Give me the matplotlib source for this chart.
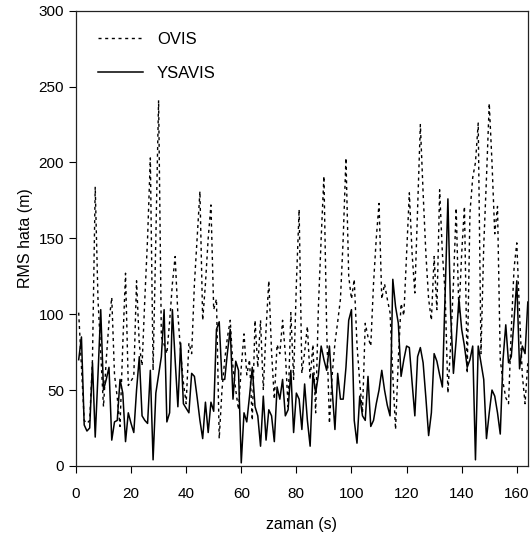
import numpy as np
import matplotlib.pyplot as plt

plt.rcParams['font.family'] = ['Liberation Sans', 'DejaVu Sans']

# time axis (s)
zaman = np.arange(1, 165)

# OVIS RMS error (m)
ovis = [101, 65, 30, 28, 30, 70, 184, 110, 75, 39,
        70, 95, 111, 60, 45, 26, 80, 127, 53, 56,
        59, 122, 80, 66, 110, 150, 203, 63, 150, 241,
        85, 80, 74, 95, 120, 138, 100, 75, 55, 41,
        81, 74, 120, 150, 181, 96, 120, 150, 172, 103,
        110, 18, 50, 70, 85, 96, 65, 50, 37, 65,
        87, 60, 70, 30, 96, 65, 96, 50, 90, 122,
        75, 44, 80, 74, 96, 74, 39, 101, 57, 120,
        169, 61, 75, 92, 57, 80, 35, 105, 150, 191,
        90, 28, 60, 81, 95, 110, 150, 203, 125, 110,
        123, 80, 55, 35, 94, 85, 79, 120, 150, 173,
        110, 120, 110, 101, 60, 24, 70, 107, 99, 140,
        180, 140, 114, 170, 225, 180, 140, 110, 96, 138,
        103, 182, 140, 114, 48, 80, 120, 170, 100, 140,
        171, 61, 167, 190, 200, 226, 74, 145, 190, 239,
        200, 153, 171, 70, 55, 45, 41, 90, 130, 147,
        100, 60, 41, 68]

# YSAVIS RMS error (m)
ysavis = [70, 85, 27, 23, 25, 68, 19, 60, 103, 50,
          57, 65, 17, 29, 30, 57, 48, 16, 35, 28,
          22, 50, 72, 33, 30, 28, 63, 4, 48, 60,
          72, 103, 29, 35, 103, 70, 39, 81, 41, 38,
          35, 61, 59, 45, 30, 18, 42, 22, 42, 36,
          90, 95, 57, 57, 75, 90, 44, 69, 63, 2,
          35, 29, 46, 65, 39, 33, 13, 46, 17, 37,
          33, 16, 52, 44, 57, 33, 37, 63, 22, 48,
          44, 24, 54, 30, 13, 61, 48, 60, 79, 70,
          63, 79, 50, 24, 61, 44, 44, 65, 96, 103,
          30, 15, 46, 33, 30, 59, 26, 30, 41, 50,
          63, 50, 40, 33, 123, 105, 94, 59, 70, 79,
          78, 55, 33, 72, 78, 68, 45, 20, 35, 74,
          69, 60, 52, 115, 176, 100, 61, 83, 110, 90,
          79, 65, 70, 79, 4, 79, 68, 57, 18, 35,
          50, 46, 35, 21, 70, 93, 68, 72, 96, 122,
          64, 79, 74, 108]

fig = plt.figure(figsize=(5.31, 5.38), dpi=100)
ax = fig.add_axes([0.143, 0.134, 0.851, 0.846])

ax.plot(zaman, ovis, color='black', linestyle=(0, (2.2, 2.6)), linewidth=1.0, label='OVIS')
ax.plot(zaman, ysavis, color='black', linestyle='-', linewidth=1.1, label='YSAVIS')

ax.set_xlim(0, 164)
ax.set_ylim(0, 300)
ax.set_xticks(np.arange(0, 161, 20))
ax.set_yticks(np.arange(0, 301, 50))
ax.tick_params(direction='out', length=5, width=0.8, labelsize=11, colors='black')
ax.tick_params(axis='x', pad=10)
for s in ax.spines.values():
    s.set_linewidth(0.9)
    s.set_color('#222222')

ax.set_xlabel('zaman (s)', fontsize=11.5, labelpad=12)
ax.set_ylabel('RMS hata (m)', fontsize=11.5, labelpad=4)

ax.legend(loc='upper left', frameon=False, fontsize=12, handlelength=2.7,
          handletextpad=0.8, labelspacing=1.12, borderaxespad=0.6,
          bbox_to_anchor=(0.013, 0.99))

fig.savefig('out.png', dpi=100)
